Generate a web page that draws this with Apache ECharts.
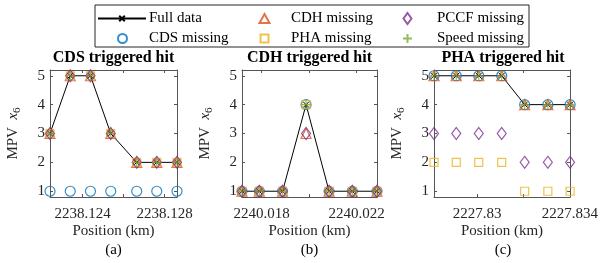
<!DOCTYPE html>
<html>
<head>
<meta charset="utf-8">
<script src="https://cdn.jsdelivr.net/npm/echarts@6/dist/echarts.min.js"></script>
<style>
html,body{margin:0;padding:0;background:#fff}
#chart{width:601px;height:263px}
</style>
</head>
<body>
<div id="chart"></div>
<script>
// sample positions (km) for each hit
var posA = [2238.12240, 2238.12339, 2238.12438, 2238.12537, 2238.12664, 2238.12762, 2238.12861];
var posB = [2240.01717, 2240.01790, 2240.01888, 2240.01987, 2240.02084, 2240.02182, 2240.02286];
var posC = [2227.82814, 2227.82910, 2227.83007, 2227.83106, 2227.83205, 2227.83305, 2227.83401];

// MPV x6 values, panel (a) CDS triggered hit
var fullA  = [3, 5, 5, 3, 2, 2, 2];
var cdsA   = [1, 1, 1, 1, 1, 1, 1];
var cdhA   = [3, 5, 5, 3, 2, 2, 2];
var phaA   = [3, 5, 5, 3, 2, 2, 2];
var pccfA  = [3, 5, 5, 3, 2, 2, 2];
var speedA = [3, 5, 5, 3, 2, 2, 2];

// panel (b) CDH triggered hit
var fullB  = [1, 1, 1, 4, 1, 1, 1];
var cdsB   = [1, 1, 1, 4, 1, 1, 1];
var cdhB   = [1, 1, 1, 3, 1, 1, 1];
var phaB   = [1, 1, 1, 4, 1, 1, 1];
var pccfB  = [1, 1, 1, 3, 1, 1, 1];
var speedB = [1, 1, 1, 4, 1, 1, 1];

// panel (c) PHA triggered hit
var fullC  = [5, 5, 5, 5, 4, 4, 4];
var cdsC   = [5, 5, 5, 5, 4, 4, 4];
var cdhC   = [5, 5, 5, 5, 4, 4, 4];
var phaC   = [2, 2, 2, 2, 1, 1, 1];
var pccfC  = [3, 3, 3, 3, 2, 2, 2];
var speedC = [5, 5, 5, 5, 4, 4, 4];

var xTicksA = [2238.124, 2238.126, 2238.128], xLabelsA = [2238.124, 2238.128];
var xTicksB = [2240.018, 2240.020, 2240.022], xLabelsB = [2240.018, 2240.022];
var xTicksC = [2227.830, 2227.832, 2227.834], xLabelsC = [2227.830, 2227.834];
var yTicks = [1, 2, 3, 4, 5];

var titles = ['CDS triggered hit', 'CDH triggered hit', 'PHA triggered hit'];
var captions = ['(a)', '(b)', '(c)'];
var names = ['Full data', 'CDS missing', 'CDH missing', 'PHA missing', 'PCCF missing', 'Speed missing'];

var FONT = "'Liberation Serif', 'DejaVu Serif', serif";
var AX = '#555';

var panels = [
  {pos: posA, vals: [fullA, cdsA, cdhA, phaA, pccfA, speedA], ticks: xTicksA, labels: xLabelsA},
  {pos: posB, vals: [fullB, cdsB, cdhB, phaB, pccfB, speedB], ticks: xTicksB, labels: xLabelsB},
  {pos: posC, vals: [fullC, cdsC, cdhC, phaC, pccfC, speedC], ticks: xTicksC, labels: xLabelsC}
];

var grids = [
  {left: 50, top: 70, width: 127, height: 127},
  {left: 242, top: 70, width: 135, height: 127},
  {left: 434, top: 70, width: 138, height: 127}
];

var marks = [
  {symbol: 'path://M0,0L10,10M10,0L0,10', size: 6, color: '#000'},
  {symbol: 'circle', size: 10, color: '#0072BD'},
  {symbol: 'triangle', size: 10, color: '#D95319'},
  {symbol: 'rect', size: 8, color: '#EDB120'},
  {symbol: 'diamond', size: [9, 12], color: '#7E2F8E'},
  {symbol: 'path://M5,0L5,10M0,5L10,5', size: 9, color: '#77AC30'}
];

function pairs(xs, ys) {
  return xs.map(function (x, i) { return [x, ys[i]]; });
}
function fmt(v) { return String(+(+v).toFixed(3)); }

var xAxes = [], yAxes = [], series = [], graphics = [];

panels.forEach(function (p, g) {
  var xmin = p.pos[0], xmax = p.pos[p.pos.length - 1];
  ['bottom', 'top'].forEach(function (side) {
    xAxes.push({
      type: 'value', gridIndex: g, position: side, min: xmin, max: xmax,
      axisLine: {show: true, onZero: false, lineStyle: {color: AX, width: 1}},
      axisTick: {show: true, inside: true, length: 3, customValues: p.ticks, lineStyle: {color: AX}},
      axisLabel: {show: side == 'bottom', customValues: p.labels, formatter: fmt, margin: 10,
                  fontFamily: FONT, fontSize: 15, color: '#262626'},
      splitLine: {show: false},
      name: side == 'bottom' ? 'Position (km)' : '', nameLocation: 'middle', nameGap: 27,
      nameTextStyle: {fontFamily: FONT, fontSize: 15, color: '#262626'}
    });
  });
  ['left', 'right'].forEach(function (side) {
    yAxes.push({
      type: 'value', gridIndex: g, position: side, min: 0.8, max: 5.2,
      axisLine: {show: true, onZero: false, lineStyle: {color: AX, width: 1}},
      axisTick: {show: true, inside: true, length: 3, customValues: yTicks, lineStyle: {color: AX}},
      axisLabel: {show: side == 'left', customValues: yTicks, margin: 5,
                  fontFamily: FONT, fontSize: 15, color: '#262626'},
      splitLine: {show: false},
      name: side == 'left' ? '{n|MPV}  {i|x}{s|6}' : '', nameLocation: 'middle', nameGap: 27, nameRotate: 90,
      nameTextStyle: {fontFamily: FONT, fontSize: 15, color: '#262626', rich: {
        n: {fontFamily: FONT, fontSize: 15, color: '#262626'},
        i: {fontFamily: FONT, fontSize: 15, fontStyle: 'italic', color: '#262626'},
        s: {fontFamily: FONT, fontSize: 11, color: '#262626', padding: [8, 0, 0, 0]}
      }}
    });
  });
  p.vals.forEach(function (vals, k) {
    var m = marks[k];
    var s = {
      name: names[k], xAxisIndex: 2 * g, yAxisIndex: 2 * g, clip: false,
      data: pairs(p.pos, vals), symbol: m.symbol, symbolSize: m.size, z: 2 + k,
      itemStyle: {color: 'rgba(0,0,0,0)', borderColor: m.color, borderWidth: 1.2},
      emphasis: {disabled: true}, animation: false
    };
    if (k == 0) {
      s.type = 'line';
      s.lineStyle = {color: '#000', width: 1};
      s.itemStyle = {color: '#000', borderColor: '#000', borderWidth: 1};
    } else {
      s.type = 'scatter';
    }
    series.push(s);
  });
  var cx = grids[g].left + grids[g].width / 2;
  graphics.push({type: 'text', x: cx, y: 58, style: {text: titles[g], align: 'center', verticalAlign: 'middle',
    font: 'bold 16px ' + FONT, fill: '#000'}});
  graphics.push({type: 'text', x: cx, y: 250, style: {text: captions[g], align: 'center', verticalAlign: 'middle',
    font: '15px ' + FONT, fill: '#000'}});
});

// legend frame
graphics.push({type: 'rect', shape: {x: 95, y: 5, width: 434, height: 42}, z: -1,
  style: {fill: '#fff', stroke: '#262626', lineWidth: 1}});

// one legend per entry so the columns line up like the original
function legendItem(name, cx, top, w, h, textX) {
  var left = cx - w / 2;
  return {
    data: [name], left: left, top: top, itemWidth: w, itemHeight: h,
    padding: 0, selectedMode: false,
    textStyle: {fontFamily: FONT, fontSize: 15, color: '#000', padding: [0, 0, 0, textX - left - w - 5]}
  };
}

var chart = echarts.init(document.getElementById('chart'));
chart.setOption({
  animation: false,
  grid: grids,
  xAxis: xAxes,
  yAxis: yAxes,
  legend: [
    legendItem(names[0], 121, 11, 48, 7, 148),
    legendItem(names[1], 121.5, 31, 9, 9, 148),
    legendItem(names[2], 263.5, 11, 10, 9, 290),
    legendItem(names[3], 263.5, 31, 8, 8, 290),
    legendItem(names[4], 406.5, 11, 8, 11, 436),
    legendItem(names[5], 406.5, 31, 9, 9, 436)
  ],
  graphic: graphics,
  series: series
});
</script>
</body>
</html>
